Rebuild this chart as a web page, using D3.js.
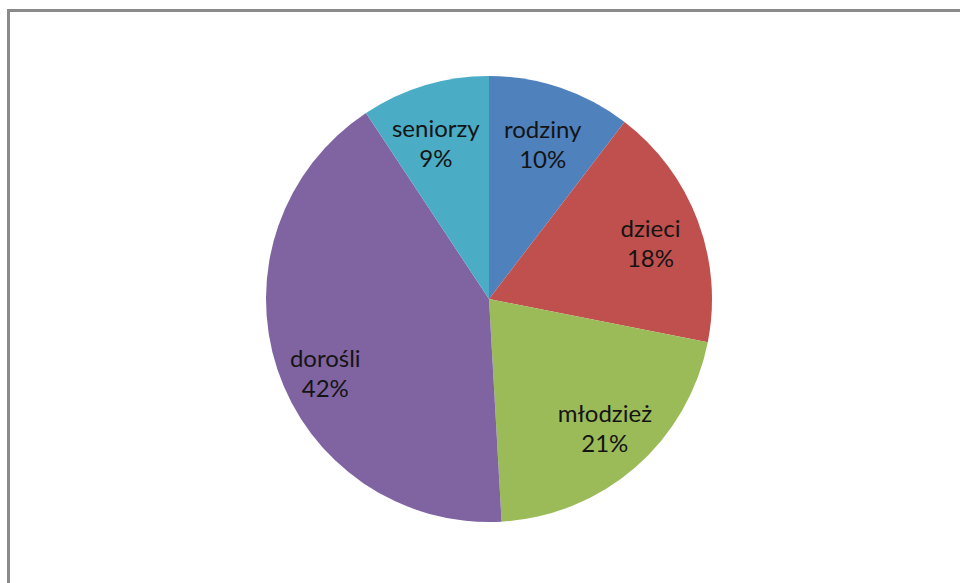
<!DOCTYPE html>
<html>
<head>
<meta charset="utf-8">
<script src="https://cdn.jsdelivr.net/npm/d3@7"></script>
<style>
  html, body { margin: 0; padding: 0; background: #fff; }
  svg { display: block; }
</style>
</head>
<body>
<script>
// Audience groups and their shares (percent)
const categories = ["rodziny", "dzieci", "młodzież", "dorośli", "seniorzy"];
const shares = [10.4, 17.7, 21.0, 41.6, 9.3];
const colors = ["#4F81BD", "#C0504D", "#9BBB59", "#8064A2", "#4BACC6"];

const width = 960, height = 583;
const cx = 489, cy = 299, radius = 223;

const svg = d3.select("body").append("svg")
  .attr("width", width).attr("height", height);

// chart frame (right and bottom edges run past the viewport)
svg.append("rect")
  .attr("x", 8.5).attr("y", 10.5)
  .attr("width", 1200).attr("height", 1000)
  .attr("fill", "#fff")
  .attr("stroke", "#8a8a8a")
  .attr("stroke-width", 3);

const data = categories.map((c, i) => ({ name: c, value: shares[i], color: colors[i] }));
const total = d3.sum(shares);

const pie = d3.pie().value(d => d.value).sort(null);
const arc = d3.arc().innerRadius(0).outerRadius(radius);
const labelArc = d3.arc().innerRadius(radius * 0.75).outerRadius(radius * 0.75);

const g = svg.append("g").attr("transform", `translate(${cx},${cy})`);
const arcs = pie(data);

g.selectAll("path.slice")
  .data(arcs)
  .join("path")
  .attr("class", "slice")
  .attr("d", arc)
  .attr("fill", d => d.data.color);

// label placement tweaks so each two-line label sits well inside its slice
const labelNudge = {
  "rodziny": [0, 12],
  "dzieci": [5, 12],
  "młodzież": [6, 12],
  "dorośli": [-5, 30],
  "seniorzy": [-5, 13]
};
const lineGap = 30;

const labels = g.selectAll("text.label")
  .data(arcs)
  .join("text")
  .attr("class", "label")
  .attr("text-anchor", "middle")
  .attr("font-family", "Lato, 'Open Sans', sans-serif")
  .attr("font-size", 24)
  .attr("fill", "#141414")
  .attr("transform", d => {
    const [x, y] = labelArc.centroid(d);
    const [nx, ny] = labelNudge[d.data.name] || [0, 0];
    return `translate(${x + nx},${y + ny})`;
  });

labels.append("tspan")
  .attr("x", 0).attr("y", -lineGap / 2)
  .text(d => d.data.name);
labels.append("tspan")
  .attr("x", 0).attr("y", lineGap / 2)
  .text(d => Math.round(d.data.value / total * 100) + "%");
</script>
</body>
</html>
